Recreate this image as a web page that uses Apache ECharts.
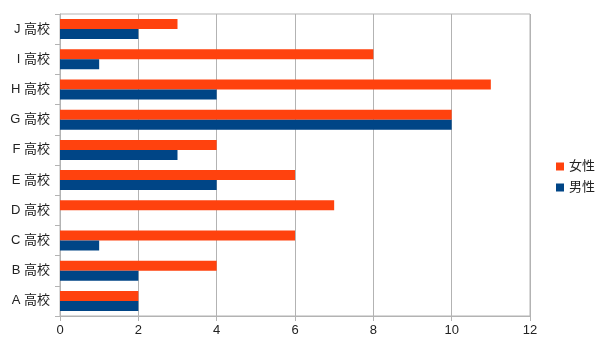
<!DOCTYPE html>
<html><head><meta charset="utf-8">
<script src="https://cdn.jsdelivr.net/npm/echarts@6/dist/echarts.min.js"></script>
<style>html,body{margin:0;padding:0;background:#fff}#c{width:602px;height:350px}</style>
</head><body><div id="c"></div>
<script>
const categories = ['A 高校','B 高校','C 高校','D 高校','E 高校','F 高校','G 高校','H 高校','I 高校','J 高校'];
const female = [2,4,6,7,6,4,10,11,8,3];
const male = [2,2,1,0,4,3,10,4,1,2];
const xTicks = [0,2,4,6,8,10,12];

const chart = echarts.init(document.getElementById('c'), null, {renderer:'canvas'});
const font = '"Liberation Sans","Noto Sans CJK JP",sans-serif';
chart.setOption({
  animation:false,
  grid:{left:60,right:72,top:14,bottom:34,show:true,borderColor:'#b3b3b3',borderWidth:1},
  legend:{
    data:['女性','男性'], orient:'vertical', left:551, top:155,
    itemWidth:8, itemHeight:8, itemGap:8, icon:'rect',
    textStyle:{fontFamily:font,fontSize:13,color:'#222'}
  },
  xAxis:{type:'value',min:xTicks[0],max:xTicks[xTicks.length-1],interval:2,
    axisLine:{show:true,lineStyle:{color:'#b3b3b3'}},
    axisTick:{show:true,length:5,lineStyle:{color:'#b3b3b3'}},
    axisLabel:{color:'#222',fontFamily:font,fontSize:13,margin:8},
    splitLine:{show:true,lineStyle:{color:'#b3b3b3'}}},
  yAxis:{type:'category',data:categories,
    axisLine:{show:true,lineStyle:{color:'#b3b3b3'}},
    axisTick:{show:true,length:5,lineStyle:{color:'#b3b3b3'}},
    axisLabel:{color:'#222',fontFamily:font,fontSize:13,margin:10}},
  series:[
    {name:'女性',type:'bar',data:female,barWidth:10,barGap:'0%',itemStyle:{color:'#ff420e'}},
    {name:'男性',type:'bar',data:male,barWidth:10,barGap:'0%',itemStyle:{color:'#004586'}}
  ]
});
</script></body></html>
